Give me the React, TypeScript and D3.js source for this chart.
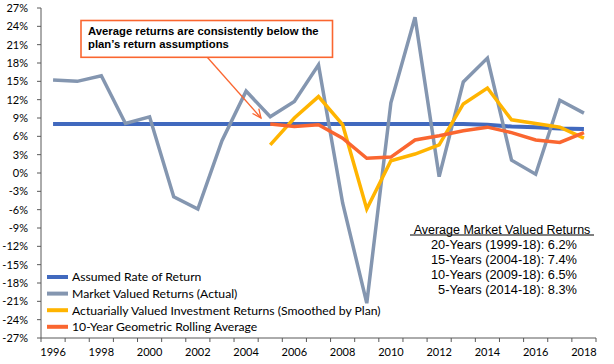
import * as d3 from 'd3'

const years = [1996, 1997, 1998, 1999, 2000, 2001, 2002, 2003, 2004, 2005, 2006, 2007, 2008, 2009, 2010, 2011, 2012, 2013, 2014, 2015, 2016, 2017, 2018]

// returns in percent
const assumed = [8.0, 8.0, 8.0, 8.0, 8.0, 8.0, 8.0, 8.0, 8.0, 8.0, 8.0, 8.0, 8.0, 8.0, 8.0, 8.0, 8.0, 8.0, 7.9, 7.6, 7.5, 7.3, 7.2]
const market = [15.2, 15.0, 15.9, 8.1, 9.2, -3.9, -5.9, 5.3, 13.4, 9.2, 11.7, 17.7, -4.9, -21.3, 11.5, 25.5, -0.6, 14.9, 18.8, 2.1, -0.2, 11.9, 9.8]
const actuarial = [null, null, null, null, null, null, null, null, null, 4.6, 9.0, 12.5, 7.9, -5.9, 2.0, 3.1, 4.6, 11.3, 13.9, 8.7, 8.1, 7.5, 5.7]
const rolling = [null, null, null, null, null, null, null, null, null, 8.0, 7.6, 7.9, 5.7, 2.4, 2.6, 5.4, 6.1, 6.9, 7.5, 6.6, 5.4, 5.0, 6.6]

const yTicks = [-27, -24, -21, -18, -15, -12, -9, -6, -3, 0, 3, 6, 9, 12, 15, 18, 21, 24, 27]
const xLabels = [1996, 1998, 2000, 2002, 2004, 2006, 2008, 2010, 2012, 2014, 2016, 2018]

const seriesNames = [
  'Assumed Rate of Return',
  'Market Valued Returns (Actual)',
  'Actuarially Valued Investment Returns (Smoothed by Plan)',
  '10-Year Geometric Rolling Average',
]
const seriesColors = ['#4169be', '#8496b0', '#ffb400', '#fa6630']

const avgTitle = 'Average Market Valued Returns'
const avgLines = ['20-Years (1999-18): 6.2%', '15-Years (2004-18): 7.4%', '10-Years (2009-18): 6.5%', '5-Years (2014-18): 8.3%']

const note = ['Average returns are consistently below the', 'plan\u2019s  return assumptions']

export default function App() {
  const width = 614
  const height = 364
  const x = d3.scaleBand<number>().domain(years).range([41, 596])
  const y = d3.scaleLinear().domain([-27, 27]).range([338, 8])
  const cx = (yr: number) => (x(yr) as number) + x.bandwidth() / 2

  const line = d3.line<number | null>()
    .defined(d => d != null)
    .x((_, i) => cx(years[i]))
    .y(d => y(d as number))

  const series = [assumed, market, actuarial, rolling]
  const widths = [4, 3.5, 3.5, 3.5]
  const drawOrder = [0, 1, 2, 3]

  const boundaries = years.map(yr => x(yr) as number).concat([x.range()[1]])

  const axisFont = 'Lato, "Open Sans", sans-serif'
  const arial = '"Liberation Sans", Arial, sans-serif'

  return (
    <svg width={width} height={height} style={{ position: 'absolute', left: 0, top: 0, background: '#fff' }}>
      {/* series */}
      {drawOrder.map(k => (
        <path key={k} d={line(series[k]) || ''} fill="none" stroke={seriesColors[k]}
          strokeWidth={widths[k]} strokeLinejoin="miter" />
      ))}

      {/* y axis */}
      <line x1={41} x2={41} y1={8} y2={338} stroke="#595959" strokeWidth={1} />
      {yTicks.map(t => (
        <g key={t}>
          <line x1={37} x2={41} y1={y(t)} y2={y(t)} stroke="#595959" />
          <text x={28} y={y(t)} dy="0.35em" textAnchor="end" fontSize={11} fontFamily={axisFont} fill="#000">{t}%</text>
        </g>
      ))}

      {/* x axis */}
      <line x1={41} x2={596} y1={338} y2={338} stroke="#595959" strokeWidth={1} />
      {boundaries.map((b, i) => (
        <line key={i} x1={b} x2={b} y1={338} y2={342} stroke="#595959" />
      ))}
      {xLabels.map(yr => (
        <text key={yr} x={cx(yr)} y={356} textAnchor="middle" fontSize={11} fontFamily={axisFont} fill="#000">{yr}</text>
      ))}

      {/* legend */}
      {seriesNames.map((n, i) => (
        <g key={n} transform={`translate(47,${277 + i * 16.6})`}>
          <line x1={0} x2={21} y1={0} y2={0} stroke={seriesColors[i]} strokeWidth={4} />
          <text x={25} y={0} dy="0.36em" fontSize={12.2} fontFamily={axisFont} fill="#000">{n}</text>
        </g>
      ))}

      {/* annotation */}
      <rect x={81} y={20.5} width={251.5} height={36.8} fill="#fff" stroke="#fa6630" strokeWidth={1.6} />
      {note.map((t, i) => (
        <text key={i} x={88} y={35.2 + i * 12.5} fontSize={11.3} fontWeight="bold" fontFamily={arial} fill="#000">{t}</text>
      ))}
      <line x1={207.5} y1={57.5} x2={261} y2={118} stroke="#fa6630" strokeWidth={1.3} />
      <path d="M252.5,113.5 L261,118 L258.8,108.6" fill="none" stroke="#fa6630" strokeWidth={1.3} />

      {/* averages */}
      <text x={502} y={233.5} textAnchor="middle" fontSize={12.5} fontFamily={arial} fill="#000">{avgTitle}</text>
      <line x1={410} x2={594} y1={235} y2={235} stroke="#000" strokeWidth={1} />
      {avgLines.map((t, i) => (
        <text key={i} x={577} y={248.5 + i * 15.2} textAnchor="end" fontSize={12.8} fontFamily={arial} fill="#000">{t}</text>
      ))}
    </svg>
  )
}
